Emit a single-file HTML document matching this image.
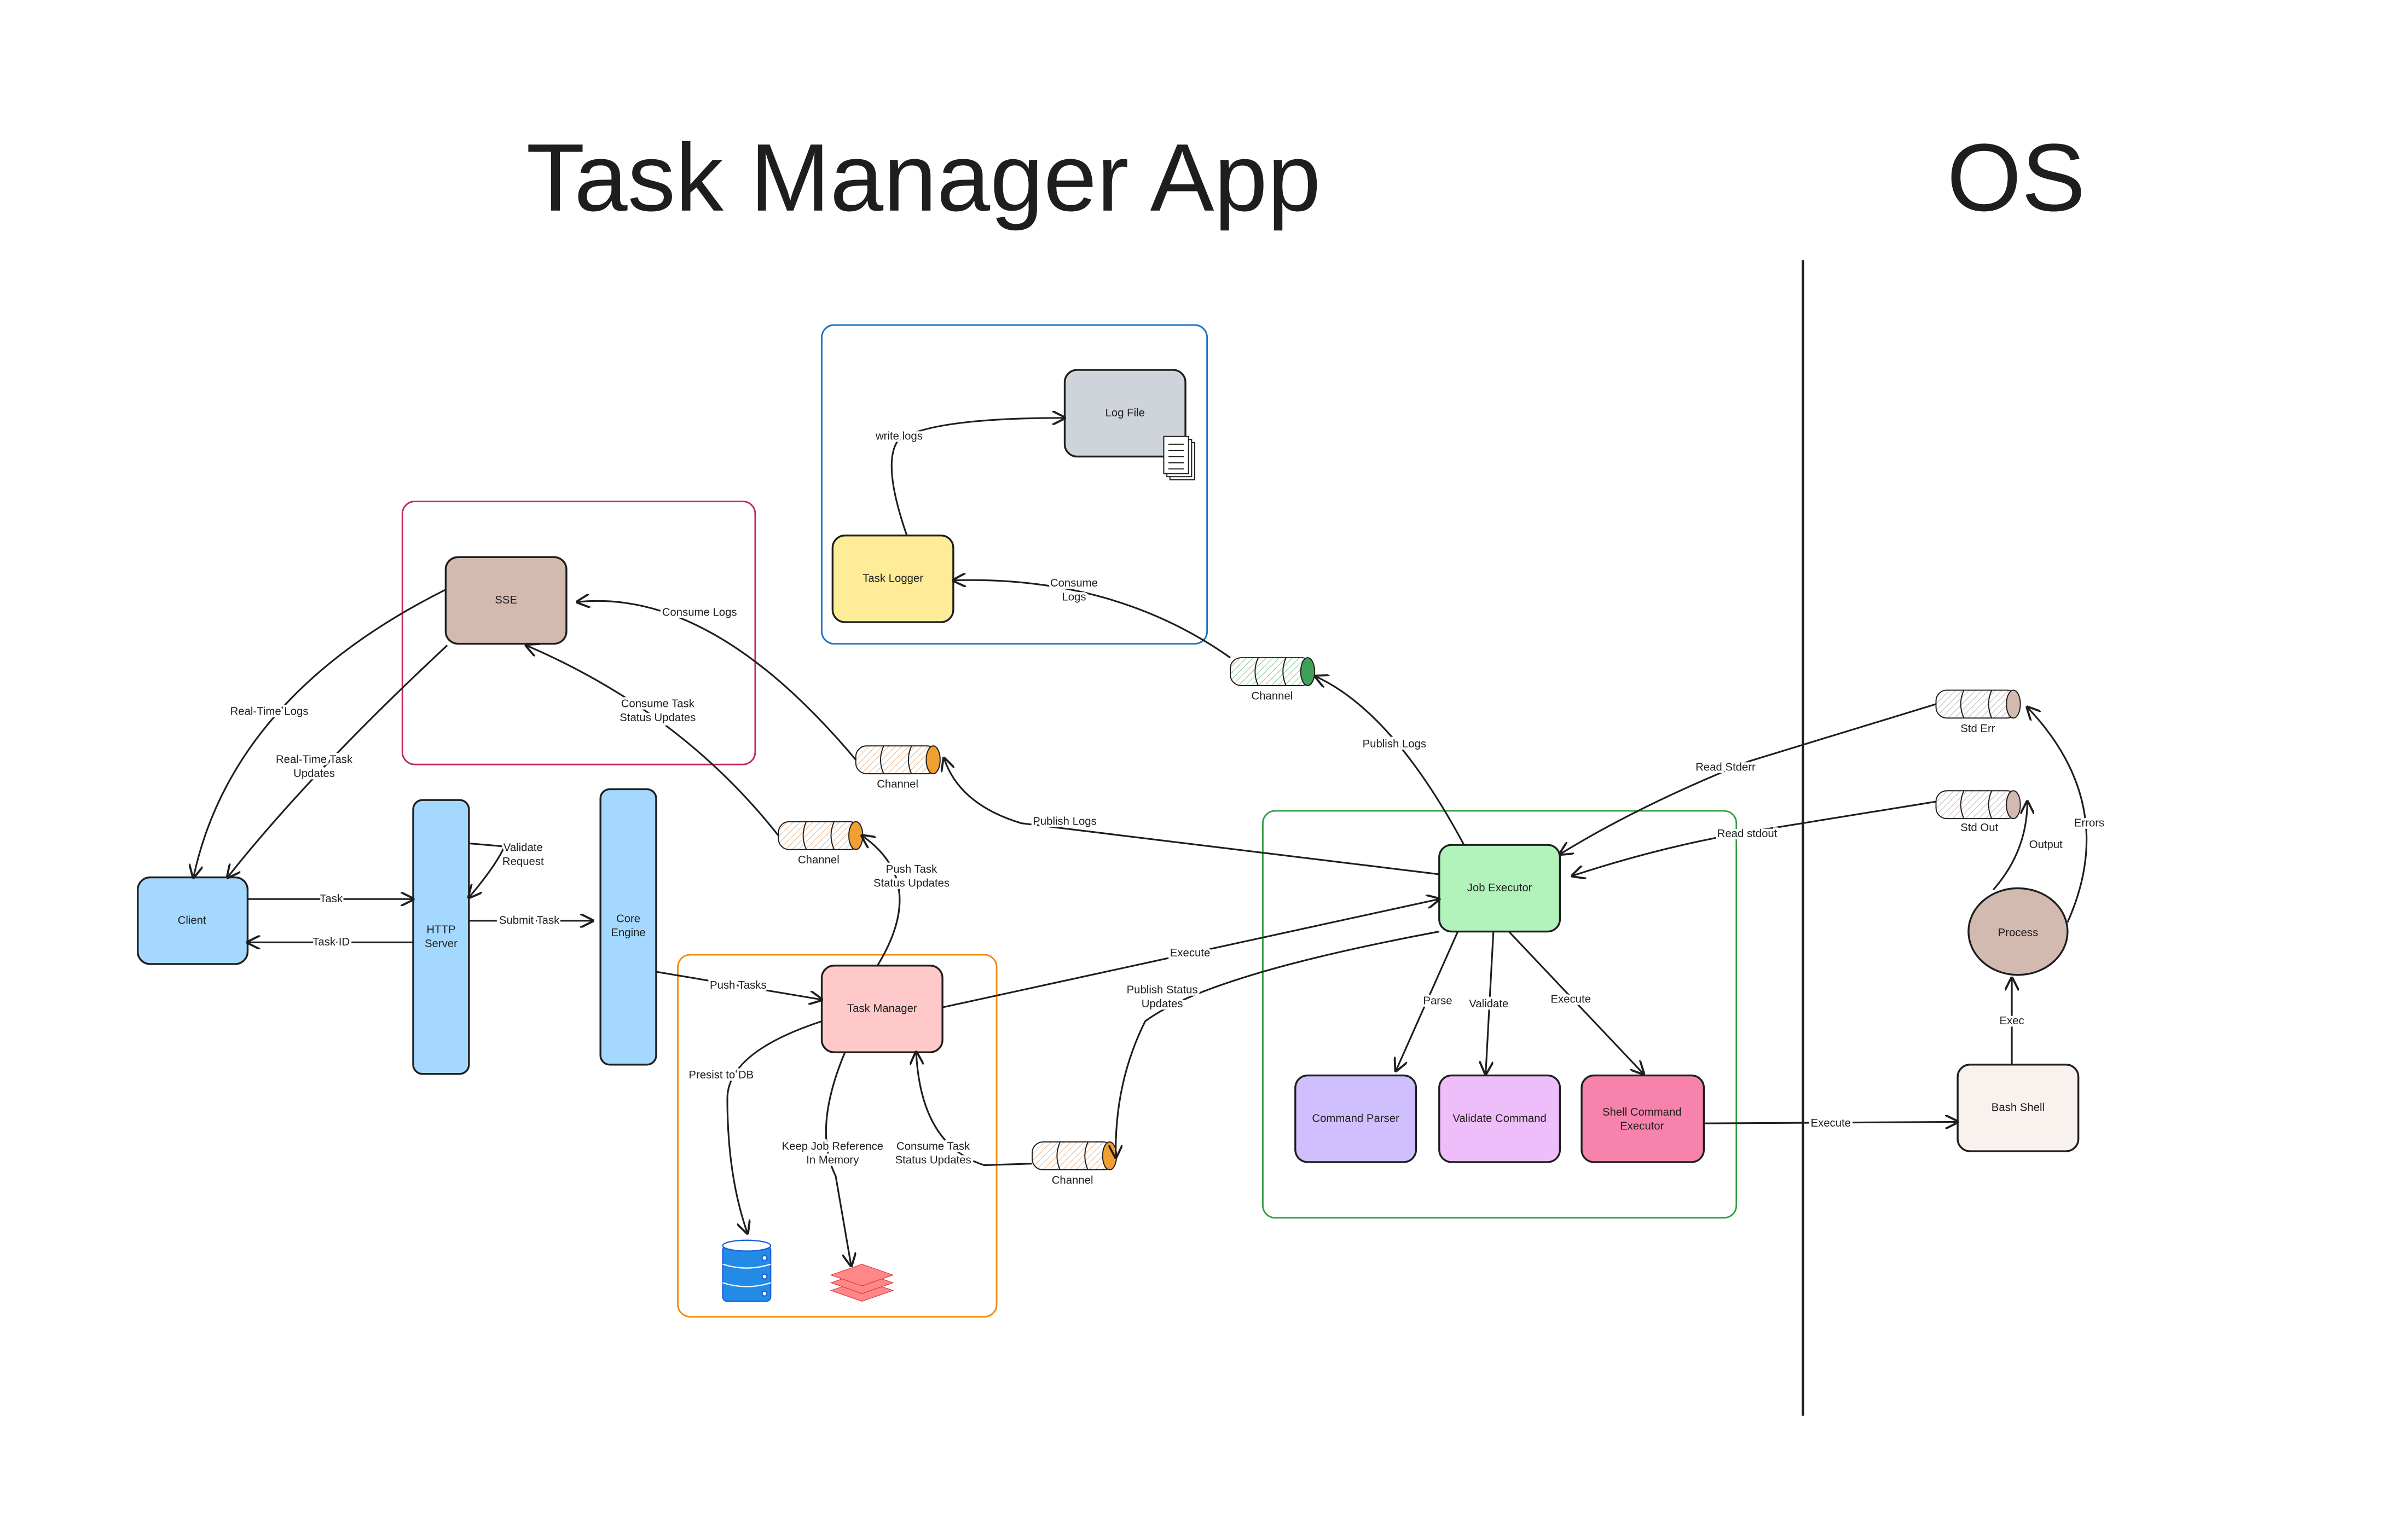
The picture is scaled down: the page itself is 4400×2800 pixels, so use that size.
<!DOCTYPE html>
<html><head><meta charset="utf-8"><style>
html,body{margin:0;padding:0;background:#fff}
svg{display:block}
text{font-family:"Liberation Sans",sans-serif;fill:#1e1e1e}
.l{font-size:7.2px;text-anchor:middle;paint-order:stroke;stroke:#fff;stroke-width:3px}
.n{font-size:7.2px;text-anchor:middle}
.b{stroke:#1e1e1e;stroke-width:1.2}
.c{fill:none;stroke:#1e1e1e;stroke-width:1.1}
</style></head><body>
<svg width="4400" height="2800" viewBox="0 0 1556 990" xmlns="http://www.w3.org/2000/svg">
<defs>
<marker id="a" viewBox="0 0 10 10" refX="9" refY="5" markerWidth="9" markerHeight="9" markerUnits="userSpaceOnUse" orient="auto">
<path d="M0,0 L10,5 L0,10" fill="none" stroke="#1e1e1e" stroke-width="1.5"/></marker>
<pattern id="h" width="3" height="3" patternUnits="userSpaceOnUse" patternTransform="rotate(45)"><line x1="0" y1="0" x2="0" y2="3" stroke="#e8a46a" stroke-width="0.6"/></pattern>
<pattern id="hg" width="3" height="3" patternUnits="userSpaceOnUse" patternTransform="rotate(45)"><line x1="0" y1="0" x2="0" y2="3" stroke="#69b77a" stroke-width="0.6"/></pattern>
<pattern id="hb" width="3" height="3" patternUnits="userSpaceOnUse" patternTransform="rotate(45)"><line x1="0" y1="0" x2="0" y2="3" stroke="#b9a8a2" stroke-width="0.6"/></pattern>
</defs>
<rect width="1556" height="990" fill="#fff"/>
<text x="340" y="136" style="font-size:62px">Task Manager App</text>
<text x="1258" y="136" style="font-size:62px">OS</text>
<line x1="1165" y1="168" x2="1165" y2="915" stroke="#1e1e1e" stroke-width="1.5"/>

<rect x="260" y="324" width="228" height="170" rx="8" fill="none" stroke="#c2255c" stroke-width="1"/>
<rect x="531" y="210" width="249" height="206" rx="8" fill="none" stroke="#1971c2" stroke-width="1"/>
<rect x="438" y="617" width="206" height="234" rx="8" fill="none" stroke="#f08c00" stroke-width="1"/>
<rect x="816" y="524" width="306" height="263" rx="8" fill="none" stroke="#2f9e44" stroke-width="1"/>

<rect class="b" x="89" y="567" width="71" height="56" rx="8" fill="#a5d8ff"/><text class="n" x="124" y="597">Client</text>
<rect class="b" x="267" y="517" width="36" height="177" rx="6" fill="#a5d8ff"/><text class="n" x="285" y="603">HTTP</text><text class="n" x="285" y="612">Server</text>
<rect class="b" x="388" y="510" width="36" height="178" rx="6" fill="#a5d8ff"/><text class="n" x="406" y="596">Core</text><text class="n" x="406" y="605">Engine</text>
<rect class="b" x="288" y="360" width="78" height="56" rx="8" fill="#d2bab0"/><text class="n" x="327" y="390">SSE</text>
<rect class="b" x="688" y="239" width="78" height="56" rx="8" fill="#ced4da"/><text class="n" x="727" y="269">Log File</text>
<g stroke="#1e1e1e" stroke-width="0.7" fill="#fff"><rect x="756" y="286" width="16" height="24"/><rect x="754" y="284" width="16" height="24"/><rect x="752" y="282" width="16" height="24"/>
<path d="M755,287h10M755,291h10M755,295h10M755,299h10M755,303h10" /></g>
<rect class="b" x="538" y="346" width="78" height="56" rx="8" fill="#ffec99"/><text class="n" x="577" y="376">Task Logger</text>
<rect class="b" x="531" y="624" width="78" height="56" rx="8" fill="#ffc9c9"/><text class="n" x="570" y="654">Task Manager</text>
<rect class="b" x="930" y="546" width="78" height="56" rx="8" fill="#b2f2bb"/><text class="n" x="969" y="576">Job Executor</text>
<rect class="b" x="837" y="695" width="78" height="56" rx="8" fill="#d0bfff"/><text class="n" x="876" y="725">Command Parser</text>
<rect class="b" x="930" y="695" width="78" height="56" rx="8" fill="#eebefa"/><text class="n" x="969" y="725">Validate Command</text>
<rect class="b" x="1022" y="695" width="79" height="56" rx="8" fill="#f783ac"/><text class="n" x="1061" y="721">Shell Command</text><text class="n" x="1061" y="730">Executor</text>
<rect class="b" x="1265" y="688" width="78" height="56" rx="8" fill="#f8f1ee"/><text class="n" x="1304" y="718">Bash Shell</text>
<ellipse class="b" cx="1304" cy="602" rx="32" ry="28" fill="#d2bab0"/><text class="n" x="1304" y="605">Process</text>

<g fill="#228be6" stroke="#1c5fd6" stroke-width="0.8">
<rect x="467" y="805" width="31" height="36" rx="3"/>
<ellipse cx="482.5" cy="805" rx="15.5" ry="3.5" fill="#fff"/>
<path d="M467,817q15.5,5 31,0M467,829q15.5,5 31,0" fill="none" stroke="#fff"/>
<circle cx="494" cy="813" r="1.6" fill="#fff"/><circle cx="494" cy="825" r="1.6" fill="#fff"/><circle cx="494" cy="836" r="1.6" fill="#fff"/></g>
<g fill="#ff8787" stroke="#e03131" stroke-width="0.4">
<path d="M537,834l20,-7l20,7l-20,7z"/><path d="M537,829l20,-7l20,7l-20,7z"/><path d="M537,824l20,-7l20,7l-20,7z"/></g>

<g stroke="#1e1e1e" stroke-width="0.7">
<g><rect x="553" y="482" width="53" height="18" rx="7" fill="url(#h)"/><path d="M571,482q-4,9 0,18M589,482q-4,9 0,18" fill="none"/><ellipse cx="603" cy="491" rx="4.5" ry="9" fill="#f0a030"/></g>
<g><rect x="503" y="531" width="53" height="18" rx="7" fill="url(#h)"/><path d="M521,531q-4,9 0,18M539,531q-4,9 0,18" fill="none"/><ellipse cx="553" cy="540" rx="4.5" ry="9" fill="#f0a030"/></g>
<g><rect x="667" y="738" width="53" height="18" rx="7" fill="url(#h)"/><path d="M685,738q-4,9 0,18M703,738q-4,9 0,18" fill="none"/><ellipse cx="717" cy="747" rx="4.5" ry="9" fill="#f0a030"/></g>
<g><rect x="795" y="425" width="53" height="18" rx="7" fill="url(#hg)"/><path d="M813,425q-4,9 0,18M831,425q-4,9 0,18" fill="none"/><ellipse cx="845" cy="434" rx="4.5" ry="9" fill="#40a05a"/></g>
<g><rect x="1251" y="446" width="53" height="18" rx="7" fill="url(#hb)"/><path d="M1269,446q-4,9 0,18M1287,446q-4,9 0,18" fill="none"/><ellipse cx="1301" cy="455" rx="4.5" ry="9" fill="#d2bab0"/></g>
<g><rect x="1251" y="511" width="53" height="18" rx="7" fill="url(#hb)"/><path d="M1269,511q-4,9 0,18M1287,511q-4,9 0,18" fill="none"/><ellipse cx="1301" cy="520" rx="4.5" ry="9" fill="#d2bab0"/></g>
</g>
<text class="n" x="580" y="509">Channel</text>
<text class="n" x="529" y="558">Channel</text>
<text class="n" x="693" y="765">Channel</text>
<text class="n" x="822" y="452">Channel</text>
<text class="n" x="1278" y="473">Std Err</text>
<text class="n" x="1279" y="537">Std Out</text>

<g class="c" marker-end="url(#a)">
<path d="M160,581L267,581"/>
<path d="M267,609L160,609"/>
<path d="M303,545L326,547Q320,560 303,580"/>
<path d="M303,595L383,595"/>
<path d="M424,628L531,646"/>
<path d="M288,381Q150,450 125,567"/>
<path d="M289,417Q200,500 147,567"/>
<path d="M553,491Q460,380 373,389"/>
<path d="M503,540Q440,460 340,417"/>
<path d="M567,624Q600,570 557,540"/>
<path d="M930,565L660,532Q620,520 610,490"/>
<path d="M946,546Q900,460 850,437"/>
<path d="M795,425Q720,372 616,375"/>
<path d="M586,346Q570,300 580,285Q600,270 688,270"/>
<path d="M609,651L930,581"/>
<path d="M930,602Q780,630 740,660Q720,700 721,748"/>
<path d="M667,752L636,753Q595,740 592,680"/>
<path d="M531,660Q470,680 470,710Q470,760 483,797"/>
<path d="M546,680Q525,730 540,760L550,818"/>
<path d="M942,602L902,692"/>
<path d="M965,602L960,694"/>
<path d="M975,602L1062,694"/>
<path d="M1101,726L1265,725"/>
<path d="M1300,688L1300,632"/>
<path d="M1288,575Q1310,550 1310,518"/>
<path d="M1336,596Q1370,520 1310,457"/>
<path d="M1251,455L1130,492Q1060,520 1008,552"/>
<path d="M1251,518L1140,536Q1080,545 1016,566"/>
</g>

<text class="l" x="214" y="583">Task</text>
<text class="l" x="214" y="611">Task ID</text>
<text class="l" x="338" y="550">Validate</text><text class="l" x="338" y="559">Request</text>
<text class="l" x="342" y="597">Submit Task</text>
<text class="l" x="477" y="639">Push Tasks</text>
<text class="l" x="174" y="462">Real-Time Logs</text>
<text class="l" x="203" y="493">Real-Time Task</text><text class="l" x="203" y="502">Updates</text>
<text class="l" x="452" y="398">Consume Logs</text>
<text class="l" x="425" y="457">Consume Task</text><text class="l" x="425" y="466">Status Updates</text>
<text class="l" x="589" y="564">Push Task</text><text class="l" x="589" y="573">Status Updates</text>
<text class="l" x="688" y="533">Publish Logs</text>
<text class="l" x="901" y="483">Publish Logs</text>
<text class="l" x="694" y="379">Consume</text><text class="l" x="694" y="388">Logs</text>
<text class="l" x="581" y="284">write logs</text>
<text class="l" x="769" y="618">Execute</text>
<text class="l" x="751" y="642">Publish Status</text><text class="l" x="751" y="651">Updates</text>
<text class="l" x="603" y="743">Consume Task</text><text class="l" x="603" y="752">Status Updates</text>
<text class="l" x="466" y="697">Presist to DB</text>
<text class="l" x="538" y="743">Keep Job Reference</text><text class="l" x="538" y="752">In Memory</text>
<text class="l" x="929" y="649">Parse</text>
<text class="l" x="962" y="651">Validate</text>
<text class="l" x="1015" y="648">Execute</text>
<text class="l" x="1183" y="728">Execute</text>
<text class="l" x="1300" y="662">Exec</text>
<text class="l" x="1322" y="548">Output</text>
<text class="l" x="1350" y="534">Errors</text>
<text class="l" x="1115" y="498">Read Stderr</text>
<text class="l" x="1129" y="541">Read stdout</text>
</svg>
</body></html>
